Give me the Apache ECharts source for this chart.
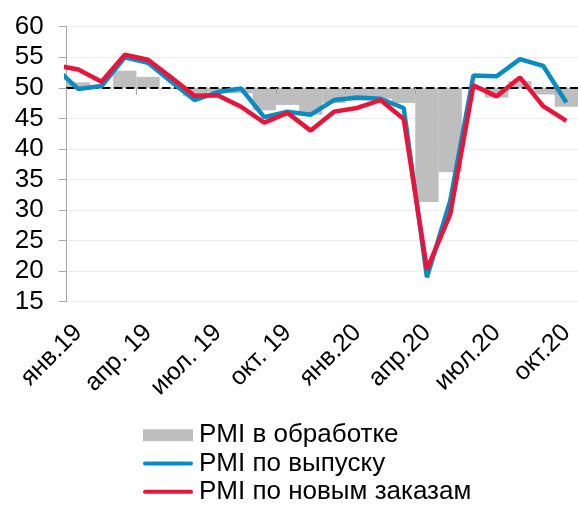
<!DOCTYPE html>
<html>
<head>
<meta charset="utf-8">
<script src="https://cdn.jsdelivr.net/npm/echarts@6/dist/echarts.min.js"></script>
<style>
  html, body { margin: 0; padding: 0; background: #fff; }
  #main { width: 578px; height: 505px; }
</style>
</head>
<body>
<div id="main"></div>
<script>
// месяцы (дек.18 только для начала линий, он за левым краем)
var months = ['дек.18',
  'янв.19', 'фев.19', 'мар.19', 'апр.19', 'май.19', 'июн.19', 'июл.19', 'авг.19', 'сен.19', 'окт.19', 'ноя.19', 'дек.19',
  'янв.20', 'фев.20', 'мар.20', 'апр.20', 'май.20', 'июн.20', 'июл.20', 'авг.20', 'сен.20', 'окт.20'];
// подписи оси (каждый третий месяц)
var tickLabels = ['янв.19', 'апр. 19', 'июл. 19', 'окт. 19', 'янв.20', 'апр.20', 'июл.20', 'окт.20'];

var pmiManuf = [null,
  50.9, 50.1, 52.8, 51.8, 49.8, 48.6, 49.3, 49.1, 46.3, 47.2, 45.6, 47.5,
  47.9, 48.2, 47.5, 31.3, 36.2, null, 48.4, 51.1, 48.9, 46.9];
var pmiOutput = [53.3,
  49.8, 50.3, 55.0, 54.1, 51.0, 48.0, 49.3, 49.9, 45.2, 46.1, 45.6, 48.0,
  48.4, 48.2, 46.7, 19.0, 31.5, 52.0, 51.9, 54.7, 53.6, 47.6];
var pmiOrders = [53.7,
  53.0, 51.0, 55.4, 54.6, 51.7, 48.7, 48.8, 46.9, 44.3, 45.9, 43.0, 46.1,
  46.7, 48.0, 44.9, 20.3, 29.3, 50.4, 48.6, 51.7, 47.0, 44.6];

var base = 50;
var yMin = 15, yMax = 60;
var xMin = 0.5, xMax = 22.5;
var gridLeft = 66.7, gridTop = 26.7, gridW = 513.3, gridH = 275;

// столбцы рисуются от 50 — по скрытой оси, сдвинутой на 50
var barData = pmiManuf.map(function (v, i) { return [i, v == null ? null : v - base]; });
var outputData = pmiOutput.map(function (v, i) { return [i, v]; });
var ordersData = pmiOrders.map(function (v, i) { return [i, v]; });

var labelVals = [], tickVals = [];
for (var k = 1; k < months.length; k += 3) {
  labelVals.push(k);
  tickVals.push(k - 0.5);
}

var lineIcon = 'path://M2,0 L48,0 A2,2 0 0 1 48,4 L2,4 A2,2 0 0 1 2,0 Z';

var myChart = echarts.init(document.getElementById('main'));
var font = 'Liberation Sans, Arial, sans-serif';
var option = {
  animation: false,
  textStyle: { fontFamily: font },
  grid: { left: gridLeft, top: gridTop, width: gridW, height: gridH },
  legend: {
    orient: 'vertical',
    left: 143,
    top: 421,
    height: 100,
    padding: 0,
    itemGap: 0,
    itemWidth: 50,
    itemHeight: 12,
    textStyle: { fontSize: 26, color: '#000', lineHeight: 28.3, fontFamily: font, padding: [0, 0, 0, 1] },
    data: [
      { name: 'PMI в обработке', icon: 'rect' },
      { name: 'PMI по выпуску', icon: lineIcon },
      { name: 'PMI по новым заказам', icon: lineIcon }
    ]
  },
  xAxis: [{
    type: 'value',
    min: xMin,
    max: xMax,
    axisLine: { show: false },
    axisTick: { show: false },
    splitLine: { show: false },
    axisLabel: {
      customValues: labelVals,
      rotate: 45,
      margin: 27,
      fontSize: 25,
      color: '#000',
      formatter: function (v) { return tickLabels[(v - 1) / 3]; }
    }
  }, {
    // ось на уровне 50
    type: 'value',
    position: 'top',
    min: xMin,
    max: xMax,
    offset: -(yMax - base) / (yMax - yMin) * gridH,
    z: 3,
    axisLine: { show: true, lineStyle: { color: '#000', width: 1.8, type: [7, 5] } },
    axisTick: { show: true, inside: true, length: 7, customValues: tickVals, lineStyle: { color: '#a6a6a6', width: 1 } },
    axisLabel: { show: false },
    splitLine: { show: false }
  }],
  yAxis: [{
    type: 'value',
    min: yMin,
    max: yMax,
    interval: 5,
    axisLine: { show: true, lineStyle: { color: '#a6a6a6' } },
    axisTick: { show: true, length: 8, lineStyle: { color: '#a6a6a6' } },
    splitLine: { lineStyle: { color: '#ececec', width: 1 } },
    axisLabel: { fontSize: 26, color: '#000', margin: 23 }
  }, {
    type: 'value',
    show: false,
    min: yMin - base,
    max: yMax - base,
    interval: 5,
    splitLine: { show: false }
  }],
  series: [{
    name: 'PMI в обработке',
    type: 'bar',
    yAxisIndex: 1,
    barWidth: gridW / (xMax - xMin),
    itemStyle: { color: '#bebebe' },
    data: barData,
    z: 1
  }, {
    name: 'PMI по выпуску',
    type: 'line',
    symbol: 'none',
    lineStyle: { color: '#0a8cbf', width: 4.5 },
    itemStyle: { color: '#0a8cbf' },
    data: outputData,
    z: 4
  }, {
    name: 'PMI по новым заказам',
    type: 'line',
    symbol: 'none',
    lineStyle: { color: '#e8143c', width: 4.5 },
    itemStyle: { color: '#e8143c' },
    data: ordersData,
    z: 5
  }]
};
myChart.setOption(option);
</script>
</body>
</html>
